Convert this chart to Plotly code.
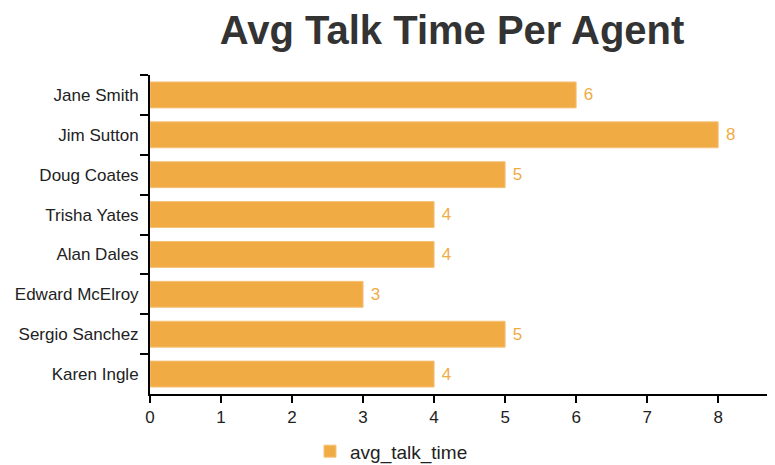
import plotly.graph_objects as go

agents = ["Jane Smith", "Jim Sutton", "Doug Coates", "Trisha Yates",
          "Alan Dales", "Edward McElroy", "Sergio Sanchez", "Karen Ingle"]
avg_talk_time = [6, 8, 5, 4, 4, 3, 5, 4]

bar_color = "#F0AB45"
font_family = "Liberation Sans, Arial, Helvetica"

fig = go.Figure()
fig.add_trace(go.Bar(
    y=agents,
    x=avg_talk_time,
    orientation="h",
    name="avg_talk_time",
    marker=dict(color=bar_color, line=dict(color="#F5C27A", width=1)),
    text=avg_talk_time,
    texttemplate="\u00a0%{x}",
    textposition="outside",
    textfont=dict(color=bar_color, size=17, family=font_family),
    cliponaxis=False,
))

# page has an 8px body margin, so the figure is sized/offset to compensate
fig.update_layout(
    width=767, height=457,
    margin=dict(l=142, r=0, t=67, b=71),
    plot_bgcolor="white", paper_bgcolor="white",
    font=dict(family=font_family, color="#222", size=17),
    title=dict(text="<b>Avg Talk Time Per Agent</b>", x=0.579, xanchor="center",
               y=0.952, yanchor="middle",
               font=dict(size=40, color="#333")),
    bargap=0.35,
    showlegend=True,
    legend=dict(orientation="h", xref="container", x=0.5, xanchor="center",
                yref="container", y=0.03, yanchor="middle",
                font=dict(size=19, color="#222")),
    xaxis=dict(range=[0, 8.8], dtick=1, showgrid=False, zeroline=False,
               showline=True, linecolor="black", linewidth=2, automargin=False,
               ticks="outside", ticklen=7, tickwidth=2, tickcolor="black",
               tickfont=dict(size=17)),
    yaxis=dict(autorange="reversed", showgrid=False, showline=True,
               linecolor="black", linewidth=2, automargin=False,
               ticks="outside", tickson="boundaries", ticklen=8, tickwidth=2,
               tickcolor="black", tickfont=dict(size=17), ticklabelstandoff=6),
)

fig.write_html("out.html")
